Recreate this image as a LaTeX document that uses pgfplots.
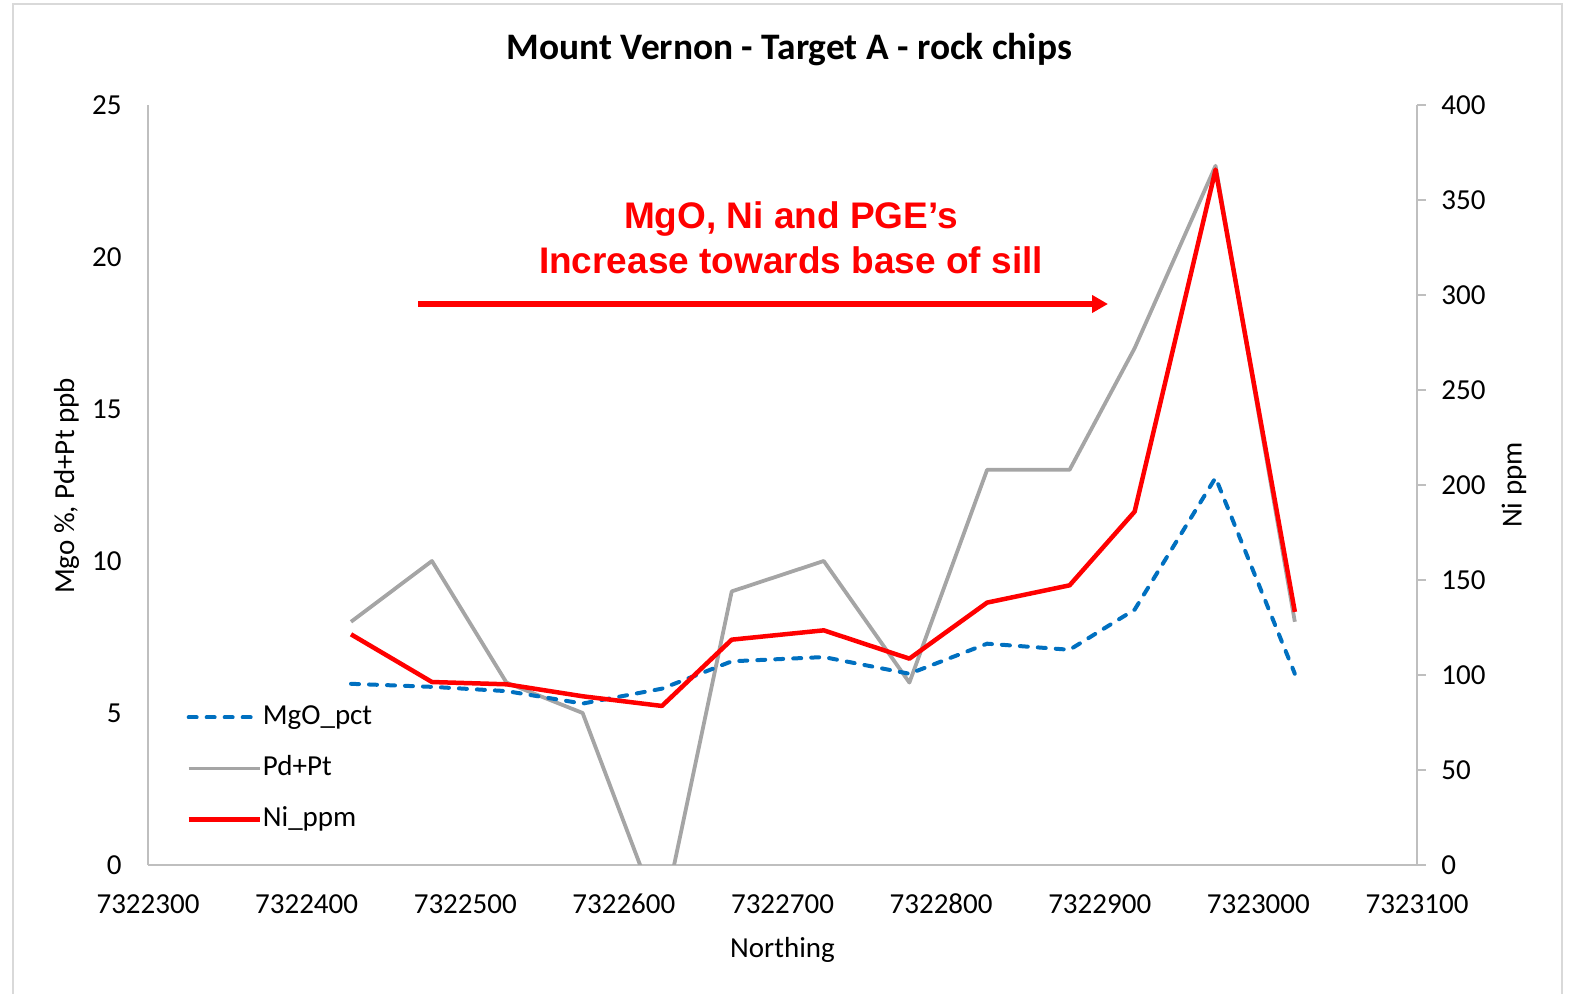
\documentclass[border=0pt]{standalone}
\usepackage{pgfplots}
\pgfplotsset{compat=1.18}
\usepackage{pgfplotstable}
\usepackage{fontspec}
\setmainfont{Carlito}
\newfontfamily\arialfont{Liberation Sans}
\usetikzlibrary{arrows.meta}

\definecolor{mgoblue}{HTML}{0070C0}
\definecolor{pdgray}{HTML}{A5A5A5}
\definecolor{nired}{HTML}{FF0000}
\definecolor{axisgray}{HTML}{BFBFBF}
\definecolor{framegray}{HTML}{D9D9D9}

% northing, MgO %, Pd+Pt ppb, Ni ppm
\pgfplotstableread{
north   mgo   pdpt  ni
7322428 5.96  8     121.4
7322479 5.86  10    96.3
7322526 5.72  6     95.1
7322574 5.31  5     88.8
7322624 5.80  -1.9  83.7
7322668 6.70  9     118.6
7322726 6.84  10    123.5
7322780 6.29  6     108.6
7322829 7.28  13    138.1
7322881 7.08  13    147.2
7322922 8.40  17    186.0
7322973 12.74 23    366.0
7323023 6.29  8     133.2
}\rockchips

\pgfplotsset{
  base/.style={
    scale only axis, width=634.5pt, height=380pt,
    xmin=7322300, xmax=7323100,
    /pgf/number format/assume math mode=true,
    tick label style={font=\fontsize{14.5}{17}\selectfont, black},
    axis line style={axisgray, line width=1pt, -},
  },
  mgostyle/.style={mgoblue, line width=2pt, line cap=round, dash pattern=on 4pt off 5pt},
  pdstyle/.style={pdgray, line width=1.9pt, line join=round},
  nistyle/.style={nired, line width=2.25pt, line join=round},
}

\begin{document}
\begin{tikzpicture}
\useasboundingbox (-74pt,-64.5pt) rectangle (716pt,432.5pt);

\begin{axis}[base,
  ymin=0, ymax=25,
  axis x line*=bottom, axis y line*=left,
  xtick={7322300,7322400,7322500,7322600,7322700,7322800,7322900,7323000,7323100},
  ytick={0,5,10,15,20,25},
  major tick length=0pt,
  scaled x ticks=false,
  xticklabel={\pgfmathprintnumber[fixed,precision=0,1000 sep={}]{\tick}},
  xticklabel style={text height=9.2pt, text depth=0pt, yshift=-11.7pt},
  yticklabel style={xshift=-9.7pt},
]
\addplot[pdstyle] table[x=north, y=pdpt] {\rockchips};
\addplot[mgostyle] table[x=north, y=mgo] {\rockchips};
\end{axis}

\begin{axis}[base,
  ymin=0, ymax=400,
  axis x line=none, axis y line*=right,
  ytick={0,50,...,400},
  tick align=outside, major tick length=4.5pt,
  tick style={axisgray, line width=1pt},
  yticklabel style={xshift=4.2pt},
  legend style={draw=none, fill=none, at={(0.02995,0.127)}, anchor=west,
    inner sep=0pt, row sep=11.5pt, column sep=0.5pt,
    font=\fontsize{14.5}{17}\selectfont,
    nodes={inner sep=0pt, text height=10.5pt, text depth=3.5pt}},
  legend cell align=left,
  legend image code/.code={\draw[#1] (0pt,0pt) -- (35.5pt,0pt);},
]
\addlegendimage{mgostyle}
\addlegendentry{MgO\_pct}
\addlegendimage{pdstyle}
\addlegendentry{Pd+Pt}
\addplot[nistyle] table[x=north, y=ni] {\rockchips};
\addlegendentry{Ni\_ppm}
\end{axis}

% titles and axis labels
\node[font=\fontsize{18.7}{22}\selectfont\bfseries, anchor=base] at (320.7pt,402.5pt) {Mount Vernon - Target A - rock chips};
\node[font=\fontsize{14.5}{17}\selectfont, rotate=90] at (-40.75pt,189.5pt) {Mgo \%, Pd+Pt ppb};
\node[font=\fontsize{14.5}{17}\selectfont, rotate=90] at (683pt,190pt) {Ni ppm};
\node[font=\fontsize{14.5}{17}\selectfont] at (317.25pt,-42.5pt) {Northing};

% annotation
\node[text=nired, font=\arialfont\bfseries\fontsize{18.5}{22}\selectfont, anchor=base] at (321.5pt,318.4pt) {MgO, Ni and PGE’s};
\node[text=nired, font=\arialfont\bfseries\fontsize{18.5}{22}\selectfont, anchor=base] at (321.5pt,295.9pt) {Increase towards base of sill};
\draw[nired, line width=3pt, -{Triangle[length=8pt,width=8.5pt]}] (135pt,280.5pt) -- (480pt,280.5pt);

% chart frame
\draw[framegray, line width=1pt] (-67.5pt,-64.5pt) -- (-67.5pt,430.5pt) -- (707pt,430.5pt) -- (707pt,-64.5pt);
\end{tikzpicture}
\end{document}
